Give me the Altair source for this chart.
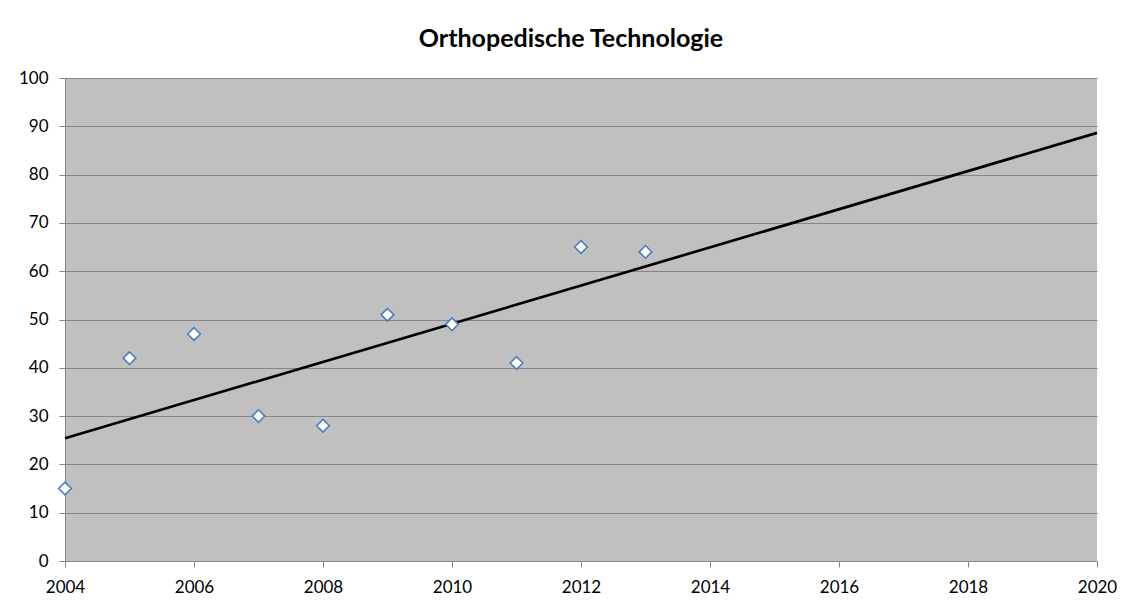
import altair as alt
import pandas as pd

years = [2004, 2005, 2006, 2007, 2008, 2009, 2010, 2011, 2012, 2013]
values = [15, 42, 47, 30, 28, 51, 49, 41, 65, 64]
x_ticks = [2004, 2006, 2008, 2010, 2012, 2014, 2016, 2018, 2020]
y_ticks = [0, 10, 20, 30, 40, 50, 60, 70, 80, 90, 100]
title_text = "Orthopedische Technologie"

df = pd.DataFrame({"year": years, "value": values})

FONT = "Lato"
GRID = "#868686"

x_enc = alt.X(
    "year:Q",
    scale=alt.Scale(domain=[2004, 2020], nice=False, zero=False),
    axis=alt.Axis(
        values=x_ticks, format="d", title=None, grid=False,
        domainColor=GRID, tickColor=GRID, tickSize=6,
        labelFont=FONT, labelFontSize=17, labelColor="#000000",
        labelPadding=12, labelFlush=False, labelOverlap=False,
    ),
)
y_enc = alt.Y(
    "value:Q",
    scale=alt.Scale(domain=[0, 100], nice=False),
    axis=alt.Axis(
        values=y_ticks, title=None, grid=True, gridColor=GRID, gridOpacity=1,
        domainColor=GRID, tickColor=GRID, tickSize=6,
        labelFont=FONT, labelFontSize=17, labelColor="#000000",
        labelPadding=11,
    ),
)

base = alt.Chart(df)

trend = base.transform_regression(
    "year", "value", method="linear", extent=[2004, 2020]
).mark_line(color="#000000", strokeWidth=2.7).encode(x=x_enc, y=y_enc)

points = base.mark_point(
    shape="diamond", filled=True, fill="#FFFFFF", stroke="#4A7EBB",
    strokeWidth=1.6, size=160, opacity=1,
).encode(x=x_enc, y=y_enc)

chart = (
    alt.layer(trend, points)
    .properties(
        width=1032,
        height=483,
        title=alt.TitleParams(
            text=title_text, font=FONT, fontSize=25, fontWeight="bold",
            color="#000000", anchor="middle", frame="group",
            baseline="alphabetic", offset=2, dx=-10, dy=5,
        ),
        autosize=alt.AutoSizeParams(type="none"),
        padding={"left": 57, "top": 70, "right": 22, "bottom": 34},
        background="#FFFFFF",
    )
    .configure_view(fill="#C0C0C0", stroke=None)
)

chart.save("out.html", embed_options={"renderer": "svg", "actions": False})
